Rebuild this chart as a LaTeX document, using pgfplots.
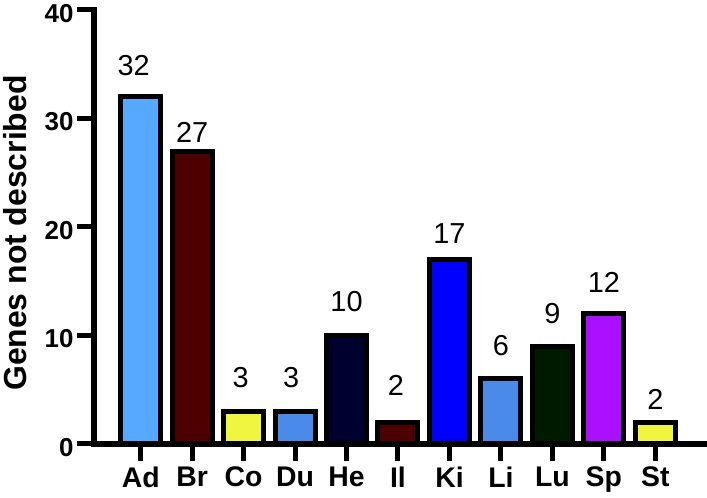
\documentclass[border=0pt]{standalone}
\usepackage{pgfplots}
\pgfplotsset{compat=1.18}
\usepackage{fontspec}
\setmainfont{Liberation Sans}
\definecolor{cAd}{HTML}{55A9FF}
\definecolor{cBr}{HTML}{4D0000}
\definecolor{cCo}{HTML}{F0F542}
\definecolor{cDu}{HTML}{4A8AE8}
\definecolor{cHe}{HTML}{00002E}
\definecolor{cIl}{HTML}{4D0000}
\definecolor{cKi}{HTML}{0000FF}
\definecolor{cLi}{HTML}{4A8AE8}
\definecolor{cLu}{HTML}{001A00}
\definecolor{cSp}{HTML}{AA10FF}
\definecolor{cSt}{HTML}{F0F542}
\begin{document}
\begin{tikzpicture}[x=1bp,y=1bp]
\useasboundingbox (0,0) rectangle (707,498);
\begin{axis}[
  at={(94bp,54bp)}, anchor=south west,
  scale only axis, width=613bp, height=434bp,
  xmin=-0.907, xmax=11.005, ymin=0, ymax=40,
  clip=false,
  axis x line=bottom, axis y line=left,
  axis line style={-, line width=5.5bp, line cap=rect, black},
  ytick={0,10,20,30,40},
  xtick={0,1,2,3,4,5,6,7,8,9,10},
  xticklabels={Ad,Br,Co,Du,He,Il,Ki,Li,Lu,Sp,St},
  minor tick num=0,
  tick align=outside,
  major tick length=17bp,
  tick style={black, line width=5bp},
  /pgf/number format/assume math mode=true,
  y tick label style={font=\bfseries\fontsize{26}{26}\selectfont, yshift=-3.5bp},
  x tick label style={font=\bfseries\fontsize{28.5}{28.5}\selectfont, yshift=-2bp},
  ylabel={Genes not described},
  ylabel style={font=\bfseries\fontsize{32}{32}\selectfont, at={(axis description cs:-0.1485,0.486)}, anchor=north, inner sep=0pt},
  ybar, bar width=40bp, bar shift=0pt,
  every axis plot/.append style={draw=black, line width=5bp},
  nodes near coords,
  every node near coord/.append style={font=\fontsize{29}{29}\selectfont, inner sep=0pt, text depth=0pt, black},
]
\addplot[fill=cAd, bar shift=0pt, every node near coord/.append style={xshift=-7bp, yshift=19bp}] coordinates {(0,32)};
\addplot[fill=cBr, bar shift=0pt, every node near coord/.append style={yshift=6.5bp}] coordinates {(1,27)};
\addplot[fill=cCo, bar shift=0pt, every node near coord/.append style={xshift=-3bp, yshift=21bp}] coordinates {(2,3)};
\addplot[fill=cDu, bar shift=0pt, every node near coord/.append style={xshift=-4bp, yshift=21bp}] coordinates {(3,3)};
\addplot[fill=cHe, bar shift=0pt, every node near coord/.append style={yshift=21.5bp}] coordinates {(4,10)};
\addplot[fill=cIl, bar shift=0pt, every node near coord/.append style={xshift=-2bp, yshift=24bp}] coordinates {(5,2)};
\addplot[fill=cKi, bar shift=0pt, every node near coord/.append style={yshift=13.5bp}] coordinates {(6,17)};
\addplot[fill=cLi, bar shift=0pt, every node near coord/.append style={yshift=20.5bp}] coordinates {(7,6)};
\addplot[fill=cLu, bar shift=0pt, every node near coord/.append style={yshift=20.5bp}] coordinates {(8,9)};
\addplot[fill=cSp, bar shift=0pt, every node near coord/.append style={yshift=18.5bp}] coordinates {(9,12)};
\addplot[fill=cSt, bar shift=0pt, every node near coord/.append style={yshift=10bp}] coordinates {(10,2)};
\end{axis}
\end{tikzpicture}
\end{document}
